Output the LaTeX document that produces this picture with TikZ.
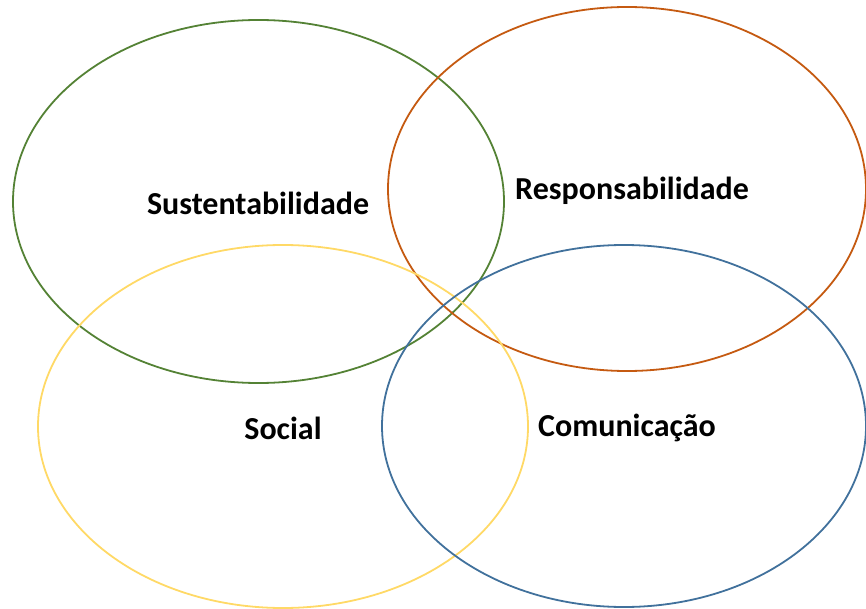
\documentclass[tikz,border=0pt]{standalone}
\usepackage{fontspec}
\setmainfont{Carlito}
\usepackage{tkz-euclide}
\definecolor{verde}{RGB}{84,130,53}
\definecolor{laranja}{RGB}{197,90,17}
\definecolor{amarelo}{RGB}{255,217,102}
\definecolor{azul}{RGB}{65,113,156}
\tikzset{circulo/.style={line width=1.8pt},
  rotulo/.style={font=\fontsize{32}{38}\selectfont\bfseries}}

\begin{document}
\begin{tikzpicture}[x=1pt,y=-1pt]
  \useasboundingbox (0,0) rectangle (866,609);
  \tkzDefPoints{258.5/201.5/S, 627/189/R, 283/426.5/O, 624/426/C}

  \draw[circulo, verde] (S) ellipse [x radius=245.5, y radius=181.5];
  \draw[circulo, laranja] (R) ellipse [x radius=239, y radius=182];
  \draw[circulo, amarelo] (O) ellipse [x radius=245, y radius=181.5];
  \draw[circulo, azul] (C) ellipse [x radius=242, y radius=181];

  \node[rotulo] (sust) at (258,203) {Sustentabilidade};
  \node[rotulo] (resp) at (632,191) {Responsabilidade};
  \node[rotulo] (soc) at (283,428) {Social};
  \node[rotulo] (com) at (627,428) {Comunicação};
\end{tikzpicture}
\end{document}
